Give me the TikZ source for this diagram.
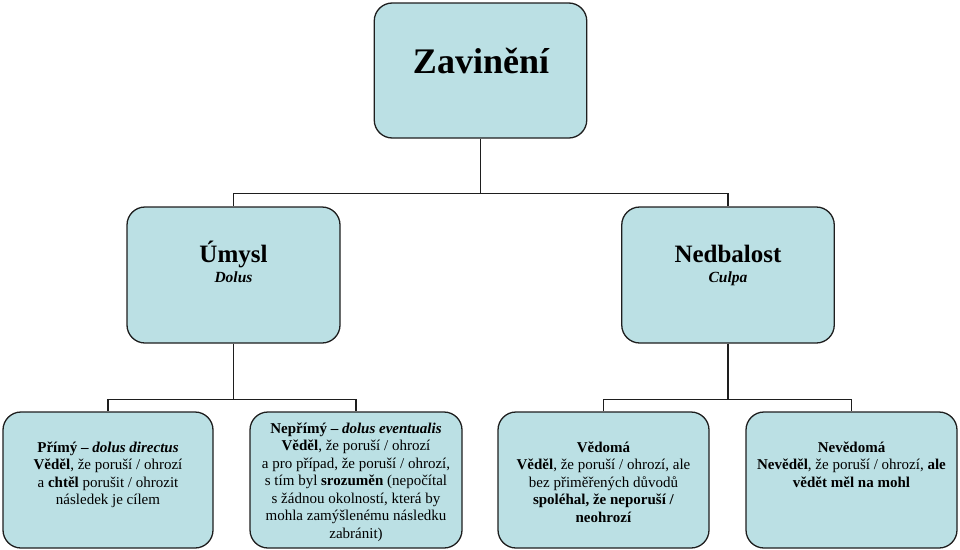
\documentclass[tikz,border=0pt]{standalone}
\usepackage{fontspec}
\setmainfont{Liberation Serif}
\definecolor{boxc}{RGB}{187,224,228}
\definecolor{linec}{RGB}{30,30,30}
\begin{document}
\begin{tikzpicture}[x=1pt,y=-1pt,
  box/.style={draw=linec,fill=boxc,line width=1.3pt,rounded corners=18pt,rectangle,inner sep=0pt,minimum height=136pt},
  conn/.style={draw=linec,line width=1.3pt},
  small/.style={font=\fontsize{15}{17.5}\selectfont,align=center,inner sep=0pt,anchor=north}]
\useasboundingbox (0,0) rectangle (960,549);
% boxes
\node[box,minimum width=212.5pt,minimum height=135pt] (top) at (480.5,70.5) {};
\node[box,minimum width=213pt] (umysl) at (233.5,275) {};
\node[box,minimum width=212.5pt] (nedb) at (728,275) {};
\node[box,minimum width=210pt] (b1) at (108,480) {};
\node[box,minimum width=212pt] (b2) at (356,480) {};
\node[box,minimum width=211pt] (b3) at (603.5,480) {};
\node[box,minimum width=211pt] (b4) at (851.5,480) {};
% connectors
\draw[conn] (top.south) -- ++(0,55) -| (umysl.north);
\draw[conn] (top.south) -- ++(0,55) -| (nedb.north);
\draw[conn] (umysl.south) -- ++(0,56) -| (b1.north);
\draw[conn] (umysl.south) -- ++(0,56) -| (b2.north);
\draw[conn] (nedb.south) -- ++(0,56) -| (b3.north);
\draw[conn] (nedb.south) -- ++(0,56) -| (b4.north);
% texts
\node[anchor=base,inner sep=0pt,font=\fontsize{36}{40}\selectfont\bfseries] (ttop) at (481,73.5) {Zavinění};
\node[anchor=base,inner sep=0pt,font=\fontsize{25}{28}\selectfont\bfseries] (tumysl) at (233.5,262) {Úmysl};
\node[anchor=base,inner sep=0pt,font=\fontsize{15.5}{18}\selectfont\itshape\bfseries] (tdolus) at (233.5,282) {Dolus};
\node[anchor=base,inner sep=0pt,font=\fontsize{25}{28}\selectfont\bfseries] (tnedb) at (728,262) {Nedbalost};
\node[anchor=base,inner sep=0pt,font=\fontsize{15.5}{18}\selectfont\itshape\bfseries] (tculpa) at (728,282) {Culpa};
\node[small] (t1) at (108,439.75) {\strut\textbf{Přímý – \textit{dolus directus}}\\
\textbf{Věděl}, že poruší / ohrozí\\
a \textbf{chtěl} porušit / ohrozit\\
následek je cílem};
\node[small] (t2) at (356,420.75) {\strut\textbf{Nepřímý – \textit{dolus eventualis}}\\
\textbf{Věděl}, že poruší / ohrozí\\
a pro případ, že poruší / ohrozí,\\
s tím byl \textbf{srozuměn} (nepočítal\\
s žádnou okolností, která by\\
mohla zamýšlenému následku\\
zabránit)};
\node[small] (t3) at (603.5,439.75) {\strut\textbf{Vědomá}\\
\textbf{Věděl}, že poruší / ohrozí, ale\\
bez přiměřených důvodů\\
\textbf{spoléhal, že neporuší /}\\
\textbf{neohrozí}};
\node[small] (t4) at (851.5,439.75) {\strut\textbf{Nevědomá}\\
\textbf{Nevěděl}, že poruší / ohrozí, \textbf{ale}\\
\textbf{vědět měl na mohl}};
\end{tikzpicture}
\end{document}
